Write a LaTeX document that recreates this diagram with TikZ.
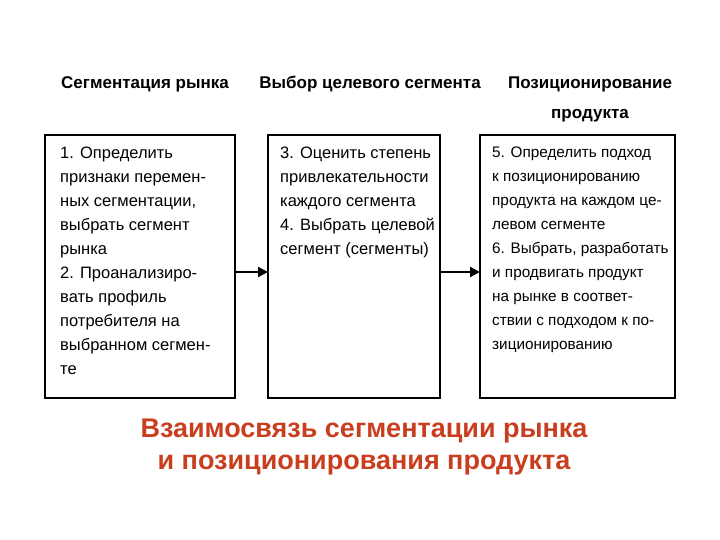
\documentclass[tikz,border=0pt]{standalone}
\usepackage{fontspec}
\setmainfont{Liberation Sans}
\usetikzlibrary{arrows.meta}
\definecolor{ttlc}{RGB}{200,62,30}
\begin{document}
\begin{tikzpicture}[x=1pt,y=-1pt,
  hdr/.style={font=\fontsize{17}{30}\selectfont\bfseries, align=center},
  box/.style={draw, line width=1.8pt, anchor=north west, inner sep=0},
  txt/.style={anchor=north west, align=left, font=\fontsize{16.5}{24}\selectfont, inner sep=0},
  arr/.style={-{Triangle[length=10pt,width=10pt]}, line width=2pt},
  ttl/.style={font=\fontsize{27}{32}\selectfont\bfseries, text=ttlc, align=center}]
\useasboundingbox (0,0) rectangle (720,540);
\node[hdr] (h1) at (145,84) {Сегментация рынка};
\node[hdr] (h2) at (370,84) {Выбор целевого сегмента};
\node[hdr] (h3) at (590,99) {Позиционирование\\продукта};
\draw[box] (45,135) rectangle (235,398);
\draw[box] (268,135) rectangle (440,398);
\draw[box] (480,135) rectangle (675,398);
\node[txt] (t1) at (60,147) {1. Определить\\признаки перемен-\\ных сегментации,\\выбрать сегмент\\рынка\\2. Проанализиро-\\вать профиль\\потребителя на\\выбранном сегмен-\\те};
\node[txt] (t2) at (280,147) {3. Оценить степень\\привлекательности\\каждого сегмента\\4. Выбрать целевой\\сегмент (сегменты)};
\node[txt, font=\fontsize{15.3}{24}\selectfont] (t3) at (492,147) {5. Определить подход\\к позиционированию\\продукта на каждом це-\\левом сегменте\\6. Выбрать, разработать\\и продвигать продукт\\на рынке в соответ-\\ствии с подходом к по-\\зиционированию};
\coordinate (a1) at (235,272); \coordinate (b1) at (268,272);
\coordinate (a2) at (440,272); \coordinate (b2) at (480,272);
\draw[arr] (a1) -- (b1);
\draw[arr] (a2) -- (b2);
\node[ttl] (tt) at (364,447) {Взаимосвязь сегментации рынка\\и позиционирования продукта};
\end{tikzpicture}
\end{document}
